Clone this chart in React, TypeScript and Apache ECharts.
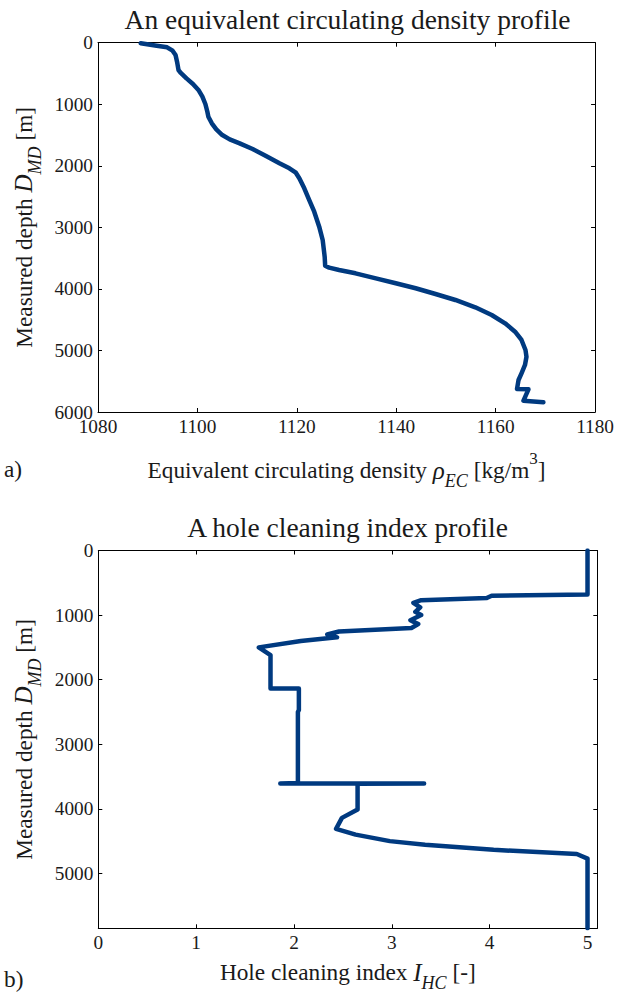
import React, { useEffect, useRef } from "react";
import * as echarts from "echarts";

const FONT = "Liberation Serif, DejaVu Serif, serif";
const LINE_COLOR = "#003a80";
const TEXT_COLOR = "#1a1a1a";

// Equivalent circulating density profile: density [kg/m3] against measured depth [m]
const ecdDensity = [
  1088.6, 1091.8, 1093.9, 1095.0, 1095.6, 1095.9, 1096.2, 1096.6, 1097.8, 1099.1,
  1100.2, 1101.0, 1101.6, 1102.0, 1102.2, 1102.9, 1103.8, 1105.0, 1106.5, 1108.5,
  1111.1, 1113.8, 1116.5, 1118.5, 1119.8, 1120.5, 1121.5, 1122.5, 1123.5, 1124.5,
  1125.2, 1125.6, 1125.7, 1126.5, 1128.5, 1131.8, 1135.9, 1139.9, 1143.9, 1147.9,
  1151.9, 1155.9, 1159.2, 1161.9, 1163.9, 1165.2, 1166.0, 1166.2, 1165.9, 1165.2,
  1164.6, 1164.3, 1166.6, 1165.6, 1169.6,
];
const ecdDepth = [
  10, 49, 75, 130, 200, 309, 444, 487, 580, 671,
  768, 877, 996, 1121, 1202, 1310, 1407, 1500, 1570, 1635,
  1727, 1841, 1960, 2041, 2112, 2203, 2366, 2556, 2746, 2989,
  3206, 3477, 3623, 3655, 3693, 3747, 3828, 3909, 3990, 4083,
  4180, 4299, 4424, 4559, 4695, 4830, 4993, 5102, 5236, 5371,
  5480, 5626, 5631, 5816, 5843,
];

// Hole cleaning index profile: index [-] against measured depth [m]
const hciIndex = [
  5.0, 5.0, 4.02, 3.97, 3.3, 3.22, 3.29, 3.24, 3.3, 3.19,
  3.27, 3.2, 2.46, 2.34, 2.44, 2.07, 1.64, 1.76, 1.76, 2.05,
  2.05, 2.04, 2.04, 1.86, 3.33, 2.65, 2.65, 2.49, 2.43, 2.63,
  2.98, 3.34, 4.04, 4.89, 5.0, 5.0,
];
const hciDepth = [
  0, 680, 700, 735, 770, 810, 880, 950, 1000, 1080,
  1140, 1200, 1255, 1300, 1345, 1400, 1500, 1620, 2135, 2135,
  2470, 2500, 3600, 3608, 3608, 3612, 4010, 4140, 4310, 4400,
  4500, 4555, 4635, 4700, 4770, 5850,
];

// Axis ranges and tick steps
const densityAxis = { min: 1080, max: 1180, step: 20 };
const depthAxisTop = { min: 0, max: 6000, step: 1000 };
const indexAxis = { min: 0, max: 5.1, step: 1 };
const depthAxisBottom = { min: 0, max: 5850, step: 1000 };

const titles = ["An equivalent circulating density profile", "A hole cleaning index profile"];

const NAME_SIZE = 23.3;
const nameRich = {
  t: { fontFamily: FONT, fontSize: NAME_SIZE, color: TEXT_COLOR, lineHeight: 40 },
  i: { fontFamily: FONT, fontSize: 25, fontStyle: "italic", color: TEXT_COLOR, lineHeight: 40 },
  sub: {
    fontFamily: FONT,
    fontSize: 18,
    fontStyle: "italic",
    color: TEXT_COLOR,
    lineHeight: 18,
    verticalAlign: "bottom",
  },
  sup: { fontFamily: FONT, fontSize: 17, color: TEXT_COLOR, lineHeight: 34, verticalAlign: "top" },
};

type Range = { min: number; max: number; step: number };

function baseAxis(range: Range, gridIndex: number) {
  return {
    type: "value",
    gridIndex,
    min: range.min,
    max: range.max,
    interval: range.step,
    axisLine: { show: true, onZero: false, lineStyle: { color: "#000", width: 1 } },
    axisTick: { show: true, inside: true, length: 4, lineStyle: { color: "#000", width: 1 } },
    splitLine: { show: false },
  };
}

function labelled(range: Range, gridIndex: number, extra: any) {
  return {
    ...baseAxis(range, gridIndex),
    axisLabel: {
      show: true,
      fontFamily: FONT,
      fontSize: 19.3,
      color: TEXT_COLOR,
      margin: 5,
      showMaxLabel: range.max % range.step === 0,
      formatter: (v: number) => String(v),
    },
    ...extra,
  };
}

function mirror(range: Range, gridIndex: number, extra: any) {
  return { ...baseAxis(range, gridIndex), axisLabel: { show: false }, ...extra };
}

export default function App() {
  const ref = useRef<HTMLDivElement>(null);

  useEffect(() => {
    document.body.style.margin = "0";
    if (!ref.current) return;
    const chart = echarts.init(ref.current, null, { renderer: "svg" });

    const depthName = "{t|Measured depth }{i|D}{sub|MD}{t| [m]}";

    chart.setOption({
      animation: false,
      backgroundColor: "#fff",
      grid: [
        { left: 98, top: 42.7, width: 499, height: 369.3 },
        { left: 98.3, top: 550.5, width: 499, height: 377.8 },
      ],
      xAxis: [
        labelled(densityAxis, 0, {
          position: "bottom",
          name: "{t|Equivalent circulating density }{i|ρ}{sub|EC}{t| [kg/m}{sup|3}{t|]}",
          nameLocation: "middle",
          nameGap: 38,
          nameTextStyle: { rich: nameRich },
        }),
        mirror(densityAxis, 0, { position: "top" }),
        labelled(indexAxis, 1, {
          position: "bottom",
          name: "{t|Hole cleaning index }{i|I}{sub|HC}{t| [-]}",
          nameLocation: "middle",
          nameGap: 24,
          nameTextStyle: { rich: nameRich },
        }),
        mirror(indexAxis, 1, { position: "top" }),
      ],
      yAxis: [
        labelled(depthAxisTop, 0, {
          position: "left",
          inverse: true,
          name: depthName,
          nameLocation: "middle",
          nameRotate: 90,
          nameGap: 53,
          nameTextStyle: { rich: nameRich },
        }),
        mirror(depthAxisTop, 0, { position: "right", inverse: true }),
        labelled(depthAxisBottom, 1, {
          position: "left",
          inverse: true,
          name: depthName,
          nameLocation: "middle",
          nameRotate: 90,
          nameGap: 53,
          nameTextStyle: { rich: nameRich },
        }),
        mirror(depthAxisBottom, 1, { position: "right", inverse: true }),
      ],
      series: [
        {
          type: "line",
          xAxisIndex: 0,
          yAxisIndex: 0,
          data: ecdDensity.map((v, i) => [v, ecdDepth[i]]),
          showSymbol: false,
          lineStyle: { color: LINE_COLOR, width: 4.5, join: "round", cap: "round" },
        },
        {
          type: "line",
          xAxisIndex: 2,
          yAxisIndex: 2,
          data: hciIndex.map((v, i) => [v, hciDepth[i]]),
          showSymbol: false,
          lineStyle: { color: LINE_COLOR, width: 4.5, join: "round", cap: "round" },
        },
      ],
      graphic: [
        {
          type: "text",
          x: 347.5,
          y: 33,
          style: {
            text: titles[0],
            font: `27.5px ${FONT}`,
            fill: TEXT_COLOR,
            align: "center",
            verticalAlign: "bottom",
          },
        },
        {
          type: "text",
          x: 347.5,
          y: 541,
          style: {
            text: titles[1],
            font: `27.5px ${FONT}`,
            fill: TEXT_COLOR,
            align: "center",
            verticalAlign: "bottom",
          },
        },
        {
          type: "text",
          x: 4,
          y: 480,
          style: { text: "a)", font: `${NAME_SIZE}px ${FONT}`, fill: TEXT_COLOR, verticalAlign: "bottom" },
        },
        {
          type: "text",
          x: 4,
          y: 990,
          style: { text: "b)", font: `${NAME_SIZE}px ${FONT}`, fill: TEXT_COLOR, verticalAlign: "bottom" },
        },
      ],
    });

    return () => chart.dispose();
  }, []);

  return <div ref={ref} style={{ width: 617, height: 994 }} />;
}
